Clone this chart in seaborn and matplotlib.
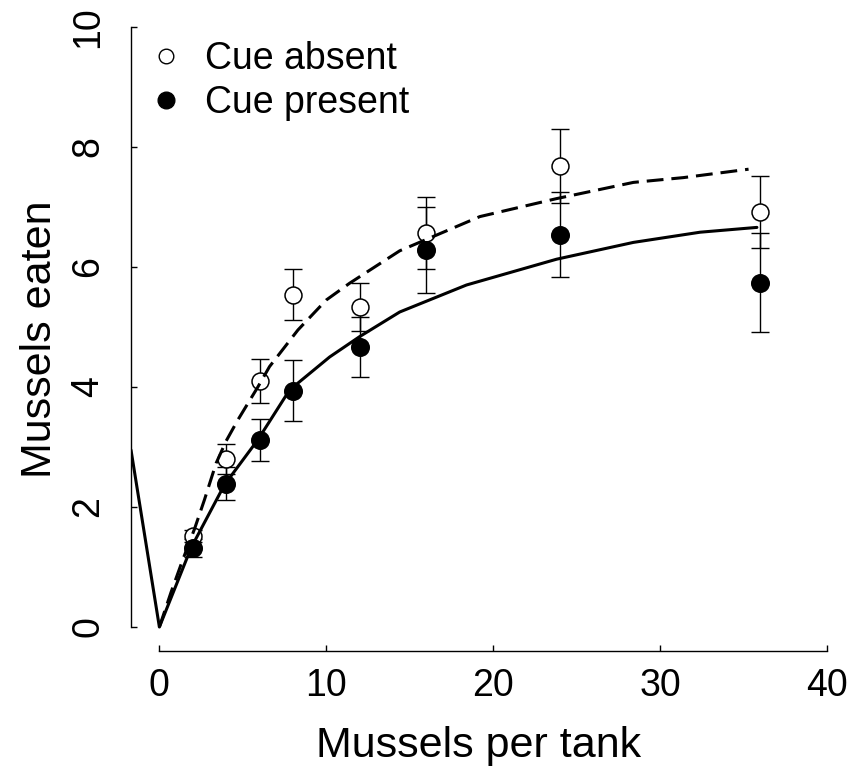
import matplotlib
matplotlib.use("Agg")
import matplotlib.pyplot as plt
from matplotlib.lines import Line2D
import seaborn as sns

# Mussel densities offered and mean number eaten (+/- SE)
density = [2, 4, 6, 8, 12, 16, 24, 36]
absent_mean = [1.52, 2.80, 4.10, 5.54, 5.34, 6.57, 7.68, 6.92]
absent_se = [0.10, 0.25, 0.37, 0.43, 0.40, 0.60, 0.62, 0.60]
present_mean = [1.31, 2.39, 3.11, 3.94, 4.67, 6.28, 6.54, 5.74]
present_se = [0.15, 0.27, 0.35, 0.51, 0.50, 0.72, 0.71, 0.83]

# Fitted functional-response curves
fit_absent_x = [0, 0.7, 1.4, 2.1, 2.7, 3.4, 4.0, 4.7, 5.9, 6.6, 8.3, 10.0,
                11.4, 14.4, 19.2, 23.8, 28.4, 31.4, 35.3]
fit_absent_y = [0, 0.58, 1.12, 1.63, 2.12, 2.73, 3.10, 3.45, 4.00, 4.34, 4.95,
                5.45, 5.73, 6.27, 6.84, 7.14, 7.41, 7.49, 7.63]
fit_present_x = [-1.7, 0, 1.9, 3.9, 5.9, 7.8, 10.2, 12.0, 14.4, 18.4, 23.8,
                 28.4, 32.4, 35.8]
fit_present_y = [2.95, 0.0, 1.32, 2.37, 3.12, 3.95, 4.50, 4.84, 5.25, 5.70,
                 6.13, 6.41, 6.58, 6.66]

x_ticks = [0, 10, 20, 30, 40]
y_ticks = [0, 2, 4, 6, 8, 10]

sns.set_style("white")
plt.rcParams["font.family"] = ["Liberation Sans", "DejaVu Sans"]
plt.rcParams["text.color"] = "black"
plt.rcParams["axes.labelcolor"] = "black"

fig = plt.figure(figsize=(8.49, 7.67), dpi=100)
ax = fig.add_axes([131 / 849, 1 - 651 / 767, (827 - 131) / 849, (651 - 27) / 767])

# error bars sit underneath the markers
ax.errorbar(density, absent_mean, yerr=absent_se, fmt="none", ecolor="black",
            elinewidth=1.0, capsize=6.5, capthick=1.0, zorder=1)
ax.errorbar(density, present_mean, yerr=present_se, fmt="none", ecolor="black",
            elinewidth=1.0, capsize=6.5, capthick=1.0, zorder=1)

sns.scatterplot(x=density, y=absent_mean, ax=ax, marker="o", s=12.2 ** 2,
                facecolor="white", edgecolor="black", linewidth=1.1, zorder=3)
sns.scatterplot(x=density, y=present_mean, ax=ax, marker="o", s=13.7 ** 2,
                color="black", edgecolor="black", linewidth=0, zorder=3)

sns.lineplot(x=fit_absent_x, y=fit_absent_y, ax=ax, color="black", lw=2.2,
             linestyle=(0, (5.5, 2.6)), sort=False, estimator=None, zorder=4)
sns.lineplot(x=fit_present_x, y=fit_present_y, ax=ax, color="black", lw=2.2,
             sort=False, estimator=None, zorder=4)

ax.set_xlim(-1.7, 40)
ax.set_ylim(-0.4, 10)
ax.set_xticks(x_ticks)
ax.set_yticks(y_ticks)
ax.set_xticklabels([str(v) for v in x_ticks])
ax.set_yticklabels([str(v) for v in y_ticks], rotation=90, va="center")

for side in ("top", "right"):
    ax.spines[side].set_visible(False)
ax.spines["left"].set_bounds(0, 10)
ax.spines["bottom"].set_bounds(0, 40)
for side in ("left", "bottom"):
    ax.spines[side].set_linewidth(1.0)
    ax.spines[side].set_color("black")

ax.tick_params(axis="both", direction="in", length=4.5, width=1.0,
               colors="black", labelcolor="black", labelsize=27,
               bottom=True, left=True)
ax.tick_params(axis="x", pad=12)
ax.tick_params(axis="y", pad=18)

ax.set_xlabel("Mussels per tank", fontsize=31, labelpad=16, color="black")
ax.set_ylabel("Mussels eaten", fontsize=31, labelpad=7, color="black")

handles = [
    Line2D([], [], marker="o", linestyle="none", markersize=10.5,
           markerfacecolor="white", markeredgecolor="black", markeredgewidth=1.0),
    Line2D([], [], marker="o", linestyle="none", markersize=12,
           markerfacecolor="black", markeredgecolor="black"),
]
leg = ax.legend(handles, ["Cue absent", "Cue present"], loc="upper left",
                bbox_to_anchor=(147 / 849, 1 - 41 / 767),
                bbox_transform=fig.transFigure, frameon=False, fontsize=27,
                handletextpad=0.55, labelspacing=0.22, borderpad=0,
                handlelength=1.0, borderaxespad=0)
for t in leg.get_texts():
    t.set_color("black")

fig.savefig("out.png", dpi=100)
